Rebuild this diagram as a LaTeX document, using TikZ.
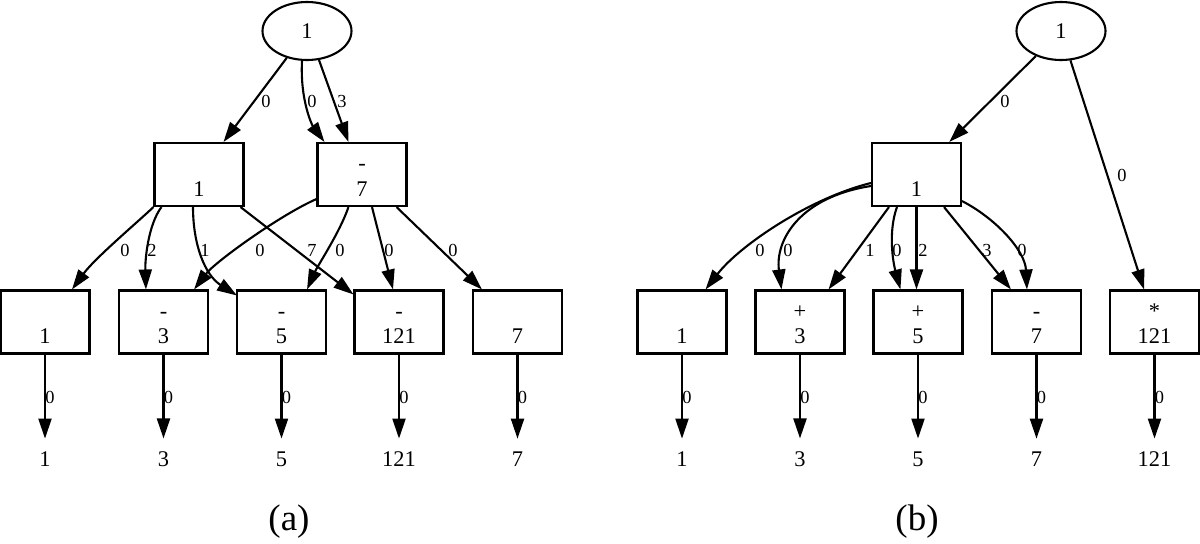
\documentclass[tikz,border=0pt]{standalone}
\usepackage{fontspec}
\setmainfont{Liberation Serif}
\usetikzlibrary{arrows.meta,shapes.geometric,calc}
\begin{document}
\begin{tikzpicture}[x=0.5pt,y=-0.5pt,
  every node/.style={font=\fontsize{11.2}{13}\selectfont},
  box/.style={draw,line width=1.05pt,minimum width=44.5pt,minimum height=31.5pt,inner sep=0pt,text height=21.5pt,text depth=0pt},
  root/.style={draw,ellipse,line width=1.05pt,minimum width=44.5pt,minimum height=29pt,inner sep=0pt},
  optxt/.style={anchor=base,inner sep=0pt},
  term/.style={inner sep=0pt,outer sep=6.5pt},
  lbl/.style={inner sep=0pt,font=\fontsize{9.2}{10}\selectfont},
  blbl/.style={lbl,anchor=west},
  edge/.style={line width=1.05pt,-{Triangle[length=10pt,width=6.5pt]}},
  captxt/.style={font=\fontsize{18.5}{20}\selectfont,inner sep=0pt}]
\useasboundingbox (0,0) rectangle (1200,543);

% ===== (a) =====
\node[root] (ra) at (307,31) {1};
\node[box] (A) at (199,174.5) {1};
\node[box] (B) at (362,174.5) {7};
\node[optxt] (opB) at ($(B.center)+(0,-4)$) {-};
\node[box] (L1) at (45,322) {1};
\node[box] (L3) at (163.5,322) {3};
\node[optxt] (op3) at ($(L3.center)+(0,-4)$) {-};
\node[box] (L5) at (281.5,322) {5};
\node[optxt] (op5) at ($(L5.center)+(0,-4)$) {-};
\node[box] (L121) at (399,322) {121};
\node[optxt] (op121) at ($(L121.center)+(0,-4)$) {-};
\node[box] (L7) at (517.5,322) {7};

\node[term] (ta1) at (45,459) {1};
\node[term] (ta3) at (163.5,459) {3};
\node[term] (ta5) at (281.5,459) {5};
\node[term] (ta121) at (399,459) {121};
\node[term] (ta7) at (517.5,459) {7};

\draw[edge] (ra) -- (A);
\node[lbl] (la1) at (266,101) {0};
\draw[edge] ($(ra.south)+(-5,0)$) .. controls (300,100) and (312,125) .. ($(B.north west)+(8,0)$);
\node[lbl] (la2) at (312,101) {0};
\draw[edge] ($(ra.south)+(12,-1)$) -- ($(B.north west)+(32,0)$);
\node[lbl] (la3) at (342,101) {3};

\draw[edge] (A.south west) .. controls (140,220) and (95,258) .. ($(L1.north)+(27,0)$);
\node[lbl] (la4) at (125,250) {0};
\draw[edge] ($(A.south west)+(8,0)$) .. controls (148,225) and (145,260) .. ($(L3.north west)+(28,0)$);
\node[lbl] (la5) at (152,250) {2};
\draw[edge] ($(A.south)+(-6,0)$) .. controls (193,245) and (205,275) .. ($(L5.north west)+(1,6)$);
\node[lbl] (la6) at (205,250) {1};
\draw[edge] ($(A.south east)+(-4,0)$) -- ($(L121.north west)+(0,5)$);
\node[lbl] (la7) at (312,250) {7};

\draw[edge] ($(B.south west)+(0,-8)$) .. controls (280,215) and (215,262) .. ($(L3.north east)+(-15,0)$);
\node[lbl] (la8) at (260,250) {0};
\draw[edge] ($(B.south west)+(32,0)$) .. controls (340,232) and (318,265) .. ($(L5.north east)+(-20,0)$);
\node[lbl] (la9) at (340,250) {0};
\draw[edge] ($(B.south)+(10,0)$) -- ($(L121.north)+(-6,0)$);
\node[lbl] (la10) at (389,250) {0};
\draw[edge] ($(B.south east)+(-11,0)$) -- ($(L7.north west)+(10,0)$);
\node[lbl] (la11) at (453,250) {0};

\draw[edge] (L1) -- (ta1);   \node[blbl] (lb1) at (45,397) {0};
\draw[edge] (L3) -- (ta3);   \node[blbl] (lb3) at (163.5,397) {0};
\draw[edge] (L5) -- (ta5);   \node[blbl] (lb5) at (281.5,397) {0};
\draw[edge] (L121) -- (ta121); \node[blbl] (lb121) at (399,397) {0};
\draw[edge] (L7) -- (ta7);   \node[blbl] (lb7) at (517.5,397) {0};

\node[captxt] (capa) at (289,522) {(a)};

% ===== (b) =====
\node[root] (rb) at (1061,31) {1};
\node[box] (C) at (916.5,174.5) {1};
\node[box] (M1) at (682,322) {1};
\node[box] (M3) at (800,322) {3};
\node[optxt] (opm3) at ($(M3.center)+(0,-4)$) {+};
\node[box] (M5) at (918,322) {5};
\node[optxt] (opm5) at ($(M5.center)+(0,-4)$) {+};
\node[box] (M7) at (1036.5,322) {7};
\node[optxt] (opm7) at ($(M7.center)+(0,-4)$) {-};
\node[box] (M121) at (1154.5,322) {121};
\node[optxt] (opm121) at ($(M121.center)+(0,-4)$) {*};

\node[term] (tb1) at (682,459) {1};
\node[term] (tb3) at (800,459) {3};
\node[term] (tb5) at (918,459) {5};
\node[term] (tb7) at (1036.5,459) {7};
\node[term] (tb121) at (1154.5,459) {121};

\draw[edge] (rb) -- (C);
\node[lbl] (lc1) at (1005,101) {0};
\draw[edge] (rb) -- (M121);
\node[lbl] (lc2) at (1122,175) {0};

\draw[edge] ($(C.west)+(0,8.5)$) .. controls (810,198) and (740,245) .. ($(M1.north east)+(-22,0)$);
\node[lbl] (lc3) at (760,250) {0};
\draw[edge] ($(C.west)+(0,11.5)$) .. controls (800,197) and (775,240) .. ($(M3.north west)+(27,0)$);
\node[lbl] (lc4) at (788,250) {0};
\draw[edge] ($(C.south west)+(18,0)$) -- ($(M3.north east)+(-17,0)$);
\node[lbl] (lc5) at (870,250) {1};
\draw[edge] ($(C.south west)+(26,0)$) .. controls (888,232) and (893,262) .. ($(M5.north west)+(28,0)$);
\node[lbl] (lc6) at (897,250) {0};
\draw[edge] (C.south) -- ($(M5.north)+(-1.5,0)$);
\node[lbl] (lc7) at (923,250) {2};
\draw[edge] ($(C.south east)+(-18,0)$) -- ($(M7.north west)+(20,0)$);
\node[lbl] (lc8) at (987,250) {3};
\draw[edge] ($(C.south east)+(0,-6)$) .. controls (995,218) and (1025,250) .. ($(M7.north west)+(36,0)$);
\node[lbl] (lc9) at (1022,250) {0};

\draw[edge] (M1) -- (tb1);   \node[blbl] (ld1) at (682,397) {0};
\draw[edge] (M3) -- (tb3);   \node[blbl] (ld3) at (800,397) {0};
\draw[edge] (M5) -- (tb5);   \node[blbl] (ld5) at (918,397) {0};
\draw[edge] (M7) -- (tb7);   \node[blbl] (ld7) at (1036.5,397) {0};
\draw[edge] (M121) -- (tb121); \node[blbl] (ld121) at (1154.5,397) {0};

\node[captxt] (capb) at (917,522) {(b)};
\end{tikzpicture}
\end{document}
